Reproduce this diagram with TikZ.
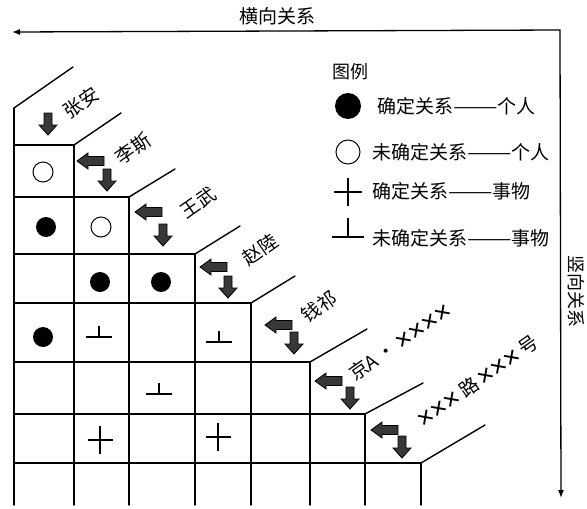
\documentclass[tikz,border=0pt]{standalone}
\usepackage{fontspec}
\setmainfont{Noto Sans CJK SC}
\newfontfamily\xfont{Liberation Sans}
\usetikzlibrary{arrows.meta}
\begin{document}
\begin{tikzpicture}[x=1pt,y=-1pt,
  gridline/.style={line width=1.4pt, line cap=round},
  blk/.style={fill=black!78, draw=black, line width=0.8pt, line join=miter},
  namelbl/.style={font=\fontsize{19}{19}\selectfont, rotate=35, inner sep=0pt},
  leg/.style={font=\fontsize{19}{19}\selectfont, anchor=west, inner sep=0pt},
  axisline/.style={line width=1.3pt, {Latex[length=8pt,width=6pt]}-{Latex[length=8pt,width=6pt]}},
  fullc/.style={circle, fill=black, minimum size=20pt, inner sep=0pt},
  openc/.style={circle, draw=black, line width=1pt, minimum size=20pt, inner sep=0pt},
  sym/.style={line width=1.2pt},
  larrow/.pic={\path[blk] (-13,0) -- (-2,-8) -- (-2,-4.5) -- (14,-4.5) -- (14,4.5) -- (-2,4.5) -- (-2,8) -- cycle;},
  darrow/.pic={\path[blk] (0,11) -- (-9,1) -- (-4,1) -- (-4,-11) -- (4,-11) -- (4,1) -- (9,1) -- cycle;},
  plussym/.pic={\draw[sym] (-12.5,0) -- (12.5,0) (0,-14) -- (0,14);},
  perpsym/.pic={\draw[sym] (-13,4) -- (13,4) (0,4) -- (0,-7);}
]
\useasboundingbox (0,0) rectangle (587,509);

% axes
\coordinate (corner) at (560,30);
\coordinate (hend) at (12,32);
\coordinate (vend) at (561,498);
\draw[axisline] (hend) -- (corner) -- (vend);
\node[font=\fontsize{19}{19}\selectfont, inner sep=0pt] (hlabel) at (277,16) {横向关系};
\node[font=\fontsize{18}{18}\selectfont, rotate=-90, inner sep=0pt] (vlabel) at (576,291) {竖向关系};

% grid: horizontal lines
\draw[gridline] (14,145) -- (74,145);
\draw[gridline] (14,197) -- (129,197);
\draw[gridline] (14,254) -- (195,254);
\draw[gridline] (14,303) -- (251,303);
\draw[gridline] (14,362) -- (310,362);
\draw[gridline] (14,414) -- (365,414);
\draw[gridline] (14,463) -- (421,463);
% vertical lines
\draw[gridline] (14,108) -- (14,505);
\draw[gridline] (74,145) -- (74,505);
\draw[gridline] (129,197) -- (129,505);
\draw[gridline] (195,254) -- (195,505);
\draw[gridline] (251,303) -- (251,505);
\draw[gridline] (310,362) -- (310,505);
\draw[gridline] (365,414) -- (365,505);
\draw[gridline] (421,463) -- (421,505);
% diagonals
\draw[gridline] (14,108) -- (73,67);
\draw[gridline] (74,145) -- (121,113);
\draw[gridline] (129,197) -- (175,169);
\draw[gridline] (195,254) -- (240,226);
\draw[gridline] (251,303) -- (295,276);
\draw[gridline] (310,362) -- (367,329);
\draw[gridline] (365,414) -- (423,383);
\draw[gridline] (421,463) -- (485,425);

% names
\node[namelbl] (n1) at (81,103) {张安};
\node[namelbl] (n2) at (133,149) {李斯};
\node[namelbl] (n3) at (198,203) {王武};
\node[namelbl] (n4) at (260,250) {赵陸};
\node[namelbl] (n5) at (319,307) {钱祁};
\node[namelbl] (n6) at (400,342) {京A\,·\,\raisebox{-2pt}{\xfont\fontsize{27}{27}\selectfont ××××}};
\node[namelbl] (n7) at (478,381) {\raisebox{-2pt}{\xfont\fontsize{27}{27}\selectfont ×××}\,路\,\raisebox{-2pt}{\xfont\fontsize{27}{27}\selectfont ×××}\,号};

% block arrows
\pic at (48,124) {darrow};
\pic at (90,161) {larrow};  \pic at (107,180) {darrow};
\pic at (148,212) {larrow}; \pic at (163,235) {darrow};
\pic at (213,267) {larrow}; \pic at (228,287) {darrow};
\pic at (278,325) {larrow}; \pic at (294,343) {darrow};
\pic at (328,381) {larrow}; \pic at (350,398) {darrow};
\pic at (384,430) {larrow}; \pic at (402,447) {darrow};

% cell symbols
\node[openc] (c10) at (43,172) {};
\node[fullc] (c20) at (46,227) {};
\node[openc] (c21) at (101,227) {};
\node[fullc] (c31) at (100,282) {};
\node[fullc] (c32) at (161,282) {};
\node[fullc] (c40) at (43,337) {};
\pic at (99,333) {perpsym};
\pic at (219,338) {perpsym};
\pic at (159,390) {perpsym};
\pic at (100,440) {plussym};
\pic at (218,437) {plussym};

% legend
\node[font=\fontsize{18}{18}\selectfont, inner sep=0pt] (legtitle) at (350,72) {图例};
\node[fullc, minimum size=26pt] (l1s) at (348,106) {};
\node[leg] (l1) at (377,106) {确定关系\scalebox{1.4}[1]{——}个人};
\node[openc, minimum size=24pt] (l2s) at (348,152) {};
\node[leg] (l2) at (372,152) {未确定关系\scalebox{1.4}[1]{——}个人};
\draw[sym] (334,192) -- (362,192) (348,178) -- (348,206);
\node[leg] (l3) at (372,191) {确定关系\scalebox{1.4}[1]{——}事物};
\draw[sym] (332,237) -- (364,237) (348,237) -- (348,218);
\node[leg] (l4) at (372,238) {未确定关系\scalebox{1.4}[1]{——}事物};
\end{tikzpicture}
\end{document}
